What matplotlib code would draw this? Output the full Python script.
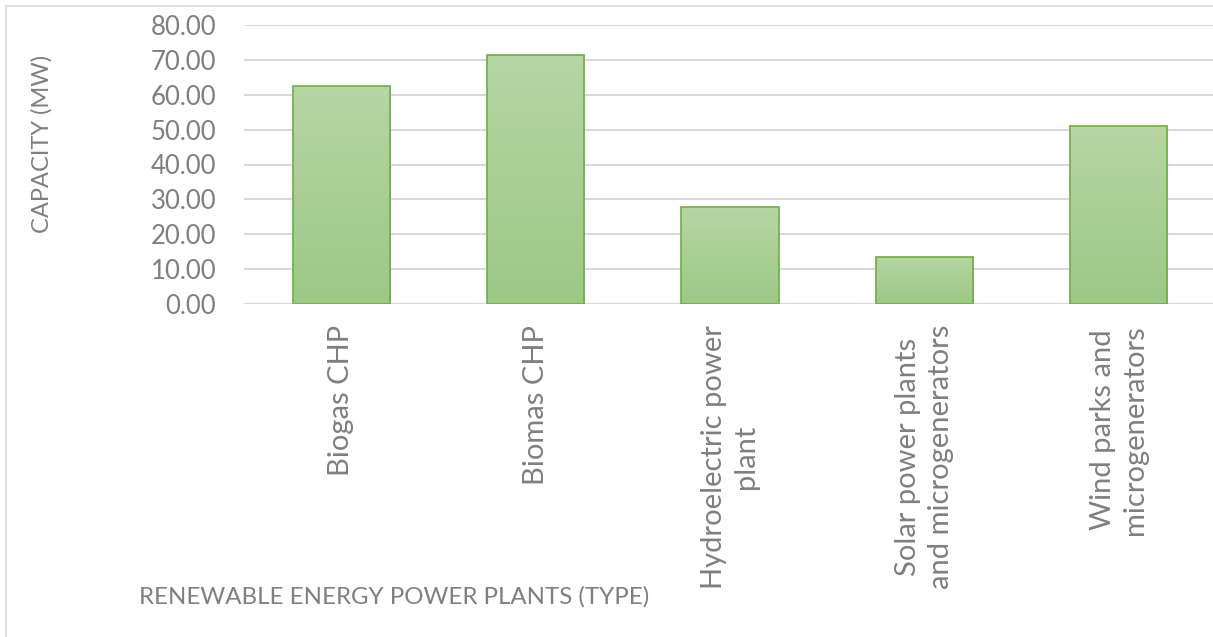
import numpy as np
import matplotlib
matplotlib.use("Agg")
import matplotlib.pyplot as plt
from matplotlib.patches import Rectangle
from matplotlib.colors import LinearSegmentedColormap

plt.rcParams['font.family'] = ['Lato', 'DejaVu Sans']

categories = [
    "Biogas CHP",
    "Biomas CHP",
    "Hydroelectric power\nplant",
    "Solar power plants\nand microgenerators",
    "Wind parks and\nmicrogenerators",
]
capacity_mw = [62.6, 71.3, 27.9, 13.5, 51.1]
y_ticks = [0, 10, 20, 30, 40, 50, 60, 70, 80]

TEXT = "#7f7f7f"
GRID = "#d9d9d9"
EDGE = "#70ad47"

W, H = 1213, 637
fig = plt.figure(figsize=(W / 100, H / 100), dpi=100)
fig.patch.set_facecolor("white")

# outer chart-area border (extends past the visible canvas on right/bottom)
fig.add_artist(Rectangle((6 / W, -0.1), 1.2, 1 - 6 / H + 0.1,
                         transform=fig.transFigure, fill=False,
                         edgecolor=GRID, linewidth=1.2))

ax = fig.add_axes([244 / W, 1 - 304 / H, 972 / W, 279 / H])

x = np.arange(len(categories))
bars = ax.bar(x, capacity_mw, width=0.5, facecolor="none",
              edgecolor=EDGE, linewidth=1.2, zorder=3)

# vertical light-to-darker green gradient inside each bar
cmap = LinearSegmentedColormap.from_list("grad", ["#9dc886", "#b6d6a4"])
grad = np.linspace(0, 1, 256).reshape(-1, 1)
for b in bars:
    x0, y0 = b.get_x(), b.get_y()
    im = ax.imshow(grad, cmap=cmap, origin="lower", aspect="auto",
                   extent=(x0, x0 + b.get_width(), y0, y0 + b.get_height()),
                   zorder=2)
    im.set_clip_path(b)
ax.set_xlim(-0.5, len(categories) - 0.5)
ax.set_ylim(0, 80)

ax.set_yticks(y_ticks)
ax.set_yticklabels([f"{v:.2f}" for v in y_ticks])
ax.yaxis.grid(True, color=GRID, linewidth=1.5, zorder=0)
ax.set_axisbelow(True)
for s in ax.spines.values():
    s.set_visible(False)

ax.tick_params(axis="y", length=0, pad=20, labelsize=18.5, labelcolor=TEXT)
ax.tick_params(axis="x", length=0, pad=15, labelcolor=TEXT)
ax.set_xticks(x)
ax.set_xticklabels(categories, rotation=90, ha="center", va="top",
                   multialignment="center", fontsize=21, linespacing=1.3)

fig.text(42 / W, 1 - 144 / H, "CAPACITY (MW)", rotation=90, ha="center",
         va="center", fontsize=17, color=TEXT)
fig.text(394 / W, 1 - 597 / H, "RENEWABLE ENERGY POWER PLANTS (TYPE)",
         ha="center", va="center", fontsize=17.3, color=TEXT)

fig.savefig("out.png", dpi=100, facecolor="white")
